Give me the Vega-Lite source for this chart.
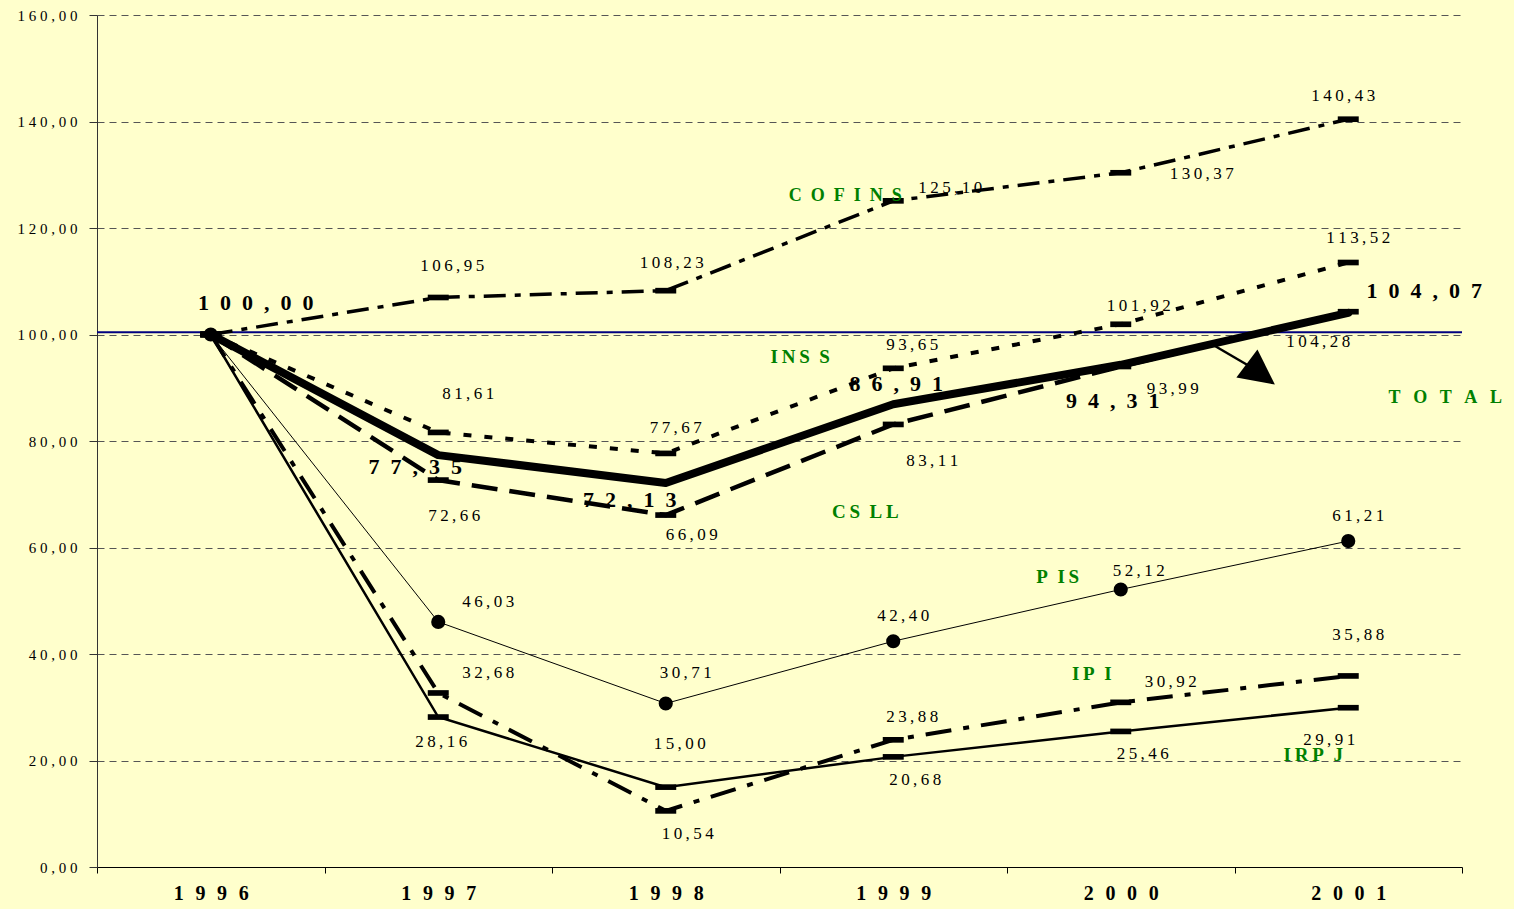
{
  "$schema": "https://vega.github.io/schema/vega-lite/v6.json",
  "width": 1365,
  "height": 852,
  "autosize": {"type": "none"},
  "padding": {"left": 97, "top": 15, "right": 52, "bottom": 42},
  "background": "#FFFFCC",
  "config": {"view": {"stroke": null}, "font": "Liberation Serif"},
  "resolve": {"scale": {"x": "independent"}},
  "layer": [
    {
      "data": {"values": [{"b": 100.4}]},
      "mark": {"type": "rule", "color": "#000080", "strokeWidth": 2},
      "encoding": {"y": {"field": "b", "type": "quantitative"}}
    },
    {
      "data": {"values": [
        {"s": "COFINS", "yr": "1996", "v": 100}, {"s": "COFINS", "yr": "1997", "v": 106.95}, {"s": "COFINS", "yr": "1998", "v": 108.23}, {"s": "COFINS", "yr": "1999", "v": 125.10}, {"s": "COFINS", "yr": "2000", "v": 130.37}, {"s": "COFINS", "yr": "2001", "v": 140.43},
        {"s": "INSS", "yr": "1996", "v": 100}, {"s": "INSS", "yr": "1997", "v": 81.61}, {"s": "INSS", "yr": "1998", "v": 77.67}, {"s": "INSS", "yr": "1999", "v": 93.65}, {"s": "INSS", "yr": "2000", "v": 101.92}, {"s": "INSS", "yr": "2001", "v": 113.52},
        {"s": "TOTAL", "yr": "1996", "v": 100}, {"s": "TOTAL", "yr": "1997", "v": 77.35}, {"s": "TOTAL", "yr": "1998", "v": 72.13}, {"s": "TOTAL", "yr": "1999", "v": 86.91}, {"s": "TOTAL", "yr": "2000", "v": 94.31}, {"s": "TOTAL", "yr": "2001", "v": 104.07},
        {"s": "CSLL", "yr": "1996", "v": 100}, {"s": "CSLL", "yr": "1997", "v": 72.66}, {"s": "CSLL", "yr": "1998", "v": 66.09}, {"s": "CSLL", "yr": "1999", "v": 83.11}, {"s": "CSLL", "yr": "2000", "v": 93.99}, {"s": "CSLL", "yr": "2001", "v": 104.28},
        {"s": "PIS", "yr": "1996", "v": 100}, {"s": "PIS", "yr": "1997", "v": 46.03}, {"s": "PIS", "yr": "1998", "v": 30.71}, {"s": "PIS", "yr": "1999", "v": 42.40}, {"s": "PIS", "yr": "2000", "v": 52.12}, {"s": "PIS", "yr": "2001", "v": 61.21},
        {"s": "IPI", "yr": "1996", "v": 100}, {"s": "IPI", "yr": "1997", "v": 32.68}, {"s": "IPI", "yr": "1998", "v": 10.54}, {"s": "IPI", "yr": "1999", "v": 23.88}, {"s": "IPI", "yr": "2000", "v": 30.92}, {"s": "IPI", "yr": "2001", "v": 35.88},
        {"s": "IRPJ", "yr": "1996", "v": 100}, {"s": "IRPJ", "yr": "1997", "v": 28.16}, {"s": "IRPJ", "yr": "1998", "v": 15.00}, {"s": "IRPJ", "yr": "1999", "v": 20.68}, {"s": "IRPJ", "yr": "2000", "v": 25.46}, {"s": "IRPJ", "yr": "2001", "v": 29.91}
      ]},
      "transform": [
        {"calculate": "datum.s + '-' + datum.yr", "as": "k"},
        {"calculate": "replace(format(datum.v, '.2f'), '.', ',')", "as": "t"},
        {"calculate": "replace(datum.t, regexp('(.)(?!$)', 'g'), '$1\u2009')", "as": "ts"},
        {"calculate": "replace(datum.t, regexp('(.)(?!$)', 'g'), '$1\u2002')", "as": "tt"}
      ],
      "encoding": {
        "x": {
          "field": "yr", "type": "ordinal",
          "scale": {"type": "band", "paddingInner": 0, "paddingOuter": 0},
          "axis": {
            "title": null, "tickBand": "extent", "tickSize": 6, "tickColor": "black",
            "domainColor": "black", "grid": false, "labelAngle": 0,
            "labelFont": "Liberation Serif", "labelFontWeight": "bold", "labelFontSize": 20,
            "labelColor": "black", "labelPadding": 10,
            "labelExpr": "replace(datum.label, regexp('(.)(?!$)', 'g'), '$1\u2002\u200a')"
          }
        },
        "y": {
          "field": "v", "type": "quantitative",
          "scale": {"domain": [0, 160], "nice": false, "zero": true},
          "axis": {
            "title": null, "values": [0, 20, 40, 60, 80, 100, 120, 140, 160],
            "tickSize": 8, "tickColor": "#333333", "domainColor": "#333333",
            "grid": true, "gridDash": [7, 5], "gridColor": "#555555", "gridWidth": 1,
            "labelFont": "Liberation Serif", "labelFontSize": 15, "labelColor": "black", "labelPadding": 12,
            "labelExpr": "replace(replace(format(datum.value, '.2f'), '.', ','), regexp('(.)(?!$)', 'g'), '$1\u2005')"
          }
        }
      },
      "layer": [
        {"transform": [{"filter": "datum.s == 'PIS'"}], "mark": {"type": "line", "color": "black", "strokeWidth": 1}},
        {"transform": [{"filter": "datum.s == 'IRPJ'"}], "mark": {"type": "line", "color": "black", "strokeWidth": 2.5}},
        {"transform": [{"filter": "datum.s == 'IPI'"}], "mark": {"type": "line", "color": "black", "strokeWidth": 4, "strokeDash": [26, 12, 6, 12]}},
        {"transform": [{"filter": "datum.s == 'CSLL'"}], "mark": {"type": "line", "color": "black", "strokeWidth": 4.5, "strokeDash": [26, 12]}},
        {"transform": [{"filter": "datum.s == 'INSS'"}], "mark": {"type": "line", "color": "black", "strokeWidth": 4, "strokeDash": [8, 13]}},
        {"transform": [{"filter": "datum.s == 'COFINS'"}], "mark": {"type": "line", "color": "black", "strokeWidth": 3.5, "strokeDash": [22, 9, 6, 9]}},
        {"transform": [{"filter": "datum.s == 'TOTAL'"}], "mark": {"type": "line", "color": "black", "strokeWidth": 8, "strokeCap": "round", "strokeJoin": "round"}},
        {"transform": [{"filter": {"field": "s", "oneOf": ["COFINS", "INSS", "CSLL", "IPI", "IRPJ"]}}],
         "mark": {"type": "point", "shape": "M-1,-0.27L1,-0.27L1,0.27L-1,0.27Z", "filled": true, "color": "black", "size": 440, "opacity": 1}},
        {"transform": [{"filter": "datum.s == 'PIS'"}],
         "mark": {"type": "point", "shape": "circle", "filled": true, "color": "black", "size": 200, "opacity": 1}},

        {"transform": [{"filter": {"field": "k", "oneOf": ["INSS-1998", "INSS-2001", "PIS-1999", "PIS-2001"]}}],
         "mark": {"type": "text", "fontSize": 17, "color": "black", "align": "center", "baseline": "middle", "dx": 10, "dy": -25}, "encoding": {"text": {"field": "ts"}}},
        {"transform": [{"filter": {"field": "k", "oneOf": ["INSS-1999", "IPI-1999"]}}],
         "mark": {"type": "text", "fontSize": 17, "color": "black", "align": "center", "baseline": "middle", "dx": 19, "dy": -23}, "encoding": {"text": {"field": "ts"}}},
        {"transform": [{"filter": {"field": "k", "oneOf": ["INSS-2000", "PIS-2000"]}}],
         "mark": {"type": "text", "fontSize": 17, "color": "black", "align": "center", "baseline": "middle", "dx": 18, "dy": -18}, "encoding": {"text": {"field": "ts"}}},
        {"transform": [{"filter": {"field": "k", "oneOf": ["PIS-1997", "IPI-1997", "IPI-2000"]}}],
         "mark": {"type": "text", "fontSize": 17, "color": "black", "align": "center", "baseline": "middle", "dx": 50, "dy": -20}, "encoding": {"text": {"field": "ts"}}},
        {"transform": [{"filter": {"field": "k", "oneOf": ["IPI-1998", "IRPJ-1999", "IRPJ-2000"]}}],
         "mark": {"type": "text", "fontSize": 17, "color": "black", "align": "center", "baseline": "middle", "dx": 22, "dy": 23}, "encoding": {"text": {"field": "ts"}}},
        {"transform": [{"filter": {"field": "k", "equal": "COFINS-1997"}}],
         "mark": {"type": "text", "fontSize": 17, "color": "black", "align": "center", "baseline": "middle", "dx": 14, "dy": -31}, "encoding": {"text": {"field": "ts"}}},
        {"transform": [{"filter": {"field": "k", "equal": "COFINS-1998"}}],
         "mark": {"type": "text", "fontSize": 17, "color": "black", "align": "center", "baseline": "middle", "dx": 6, "dy": -28}, "encoding": {"text": {"field": "ts"}}},
        {"transform": [{"filter": {"field": "k", "equal": "COFINS-1999"}}],
         "mark": {"type": "text", "fontSize": 17, "color": "black", "align": "center", "baseline": "middle", "dx": 57, "dy": -13}, "encoding": {"text": {"field": "ts"}}},
        {"transform": [{"filter": {"field": "k", "equal": "COFINS-2000"}}],
         "mark": {"type": "text", "fontSize": 17, "color": "black", "align": "center", "baseline": "middle", "dx": 81, "dy": 1}, "encoding": {"text": {"field": "ts"}}},
        {"transform": [{"filter": {"field": "k", "equal": "COFINS-2001"}}],
         "mark": {"type": "text", "fontSize": 17, "color": "black", "align": "center", "baseline": "middle", "dx": -5, "dy": -23}, "encoding": {"text": {"field": "ts"}}},
        {"transform": [{"filter": {"field": "k", "equal": "INSS-1997"}}],
         "mark": {"type": "text", "fontSize": 17, "color": "black", "align": "center", "baseline": "middle", "dx": 30, "dy": -38}, "encoding": {"text": {"field": "ts"}}},
        {"transform": [{"filter": {"field": "k", "equal": "CSLL-1997"}}],
         "mark": {"type": "text", "fontSize": 17, "color": "black", "align": "center", "baseline": "middle", "dx": 16, "dy": 36}, "encoding": {"text": {"field": "ts"}}},
        {"transform": [{"filter": {"field": "k", "equal": "CSLL-1998"}}],
         "mark": {"type": "text", "fontSize": 17, "color": "black", "align": "center", "baseline": "middle", "dx": 26, "dy": 20}, "encoding": {"text": {"field": "ts"}}},
        {"transform": [{"filter": {"field": "k", "equal": "CSLL-1999"}}],
         "mark": {"type": "text", "fontSize": 17, "color": "black", "align": "center", "baseline": "middle", "dx": 39, "dy": 37}, "encoding": {"text": {"field": "ts"}}},
        {"transform": [{"filter": {"field": "k", "equal": "CSLL-2000"}}],
         "mark": {"type": "text", "fontSize": 17, "color": "black", "align": "center", "baseline": "middle", "dx": 52, "dy": 22}, "encoding": {"text": {"field": "ts"}}},
        {"transform": [{"filter": {"field": "k", "equal": "CSLL-2001"}}],
         "mark": {"type": "text", "fontSize": 17, "color": "black", "align": "center", "baseline": "middle", "dx": -30, "dy": 30}, "encoding": {"text": {"field": "ts"}}},
        {"transform": [{"filter": {"field": "k", "equal": "PIS-1998"}}],
         "mark": {"type": "text", "fontSize": 17, "color": "black", "align": "center", "baseline": "middle", "dx": 20, "dy": -30}, "encoding": {"text": {"field": "ts"}}},
        {"transform": [{"filter": {"field": "k", "equal": "IPI-2001"}}],
         "mark": {"type": "text", "fontSize": 17, "color": "black", "align": "center", "baseline": "middle", "dx": 10, "dy": -41}, "encoding": {"text": {"field": "ts"}}},
        {"transform": [{"filter": {"field": "k", "equal": "IRPJ-1997"}}],
         "mark": {"type": "text", "fontSize": 17, "color": "black", "align": "center", "baseline": "middle", "dx": 3, "dy": 25}, "encoding": {"text": {"field": "ts"}}},
        {"transform": [{"filter": {"field": "k", "equal": "IRPJ-1998"}}],
         "mark": {"type": "text", "fontSize": 17, "color": "black", "align": "center", "baseline": "middle", "dx": 14, "dy": -43}, "encoding": {"text": {"field": "ts"}}},
        {"transform": [{"filter": {"field": "k", "equal": "IRPJ-2001"}}],
         "mark": {"type": "text", "fontSize": 17, "color": "black", "align": "center", "baseline": "middle", "dx": -19, "dy": 32}, "encoding": {"text": {"field": "ts"}}},

        {"transform": [{"filter": {"field": "k", "equal": "TOTAL-1996"}}],
         "mark": {"type": "text", "fontSize": 22, "fontWeight": "bold", "color": "black", "align": "center", "baseline": "middle", "dx": 45, "dy": -32}, "encoding": {"text": {"field": "tt"}}},
        {"transform": [{"filter": {"field": "k", "equal": "TOTAL-1997"}}],
         "mark": {"type": "text", "fontSize": 22, "fontWeight": "bold", "color": "black", "align": "center", "baseline": "middle", "dx": -23, "dy": 12}, "encoding": {"text": {"field": "tt"}}},
        {"transform": [{"filter": {"field": "k", "equal": "TOTAL-1998"}}],
         "mark": {"type": "text", "fontSize": 22, "fontWeight": "bold", "color": "black", "align": "center", "baseline": "middle", "dx": -36, "dy": 17}, "encoding": {"text": {"field": "tt"}}},
        {"transform": [{"filter": {"field": "k", "equal": "TOTAL-1999"}}],
         "mark": {"type": "text", "fontSize": 22, "fontWeight": "bold", "color": "black", "align": "center", "baseline": "middle", "dx": 3, "dy": -20}, "encoding": {"text": {"field": "tt"}}},
        {"transform": [{"filter": {"field": "k", "equal": "TOTAL-2000"}}],
         "mark": {"type": "text", "fontSize": 22, "fontWeight": "bold", "color": "black", "align": "center", "baseline": "middle", "dx": -8, "dy": 36}, "encoding": {"text": {"field": "tt"}}},
        {"transform": [{"filter": {"field": "k", "equal": "TOTAL-2001"}}],
         "mark": {"type": "text", "fontSize": 22, "fontWeight": "bold", "color": "black", "align": "center", "baseline": "middle", "dx": 76, "dy": -22}, "encoding": {"text": {"field": "tt"}}},

        {"transform": [{"filter": {"field": "k", "equal": "COFINS-1999"}}],
         "mark": {"type": "text", "text": "C\u2002O\u2002F\u2002I\u2002N\u2002S", "fontSize": 18, "fontWeight": "bold", "color": "#008000", "align": "center", "baseline": "middle", "dx": -48, "dy": -5}},
        {"transform": [{"filter": {"field": "k", "equal": "INSS-1999"}}],
         "mark": {"type": "text", "text": "I\u2009N\u2009S\u2002S", "fontSize": 19, "fontWeight": "bold", "color": "#008000", "align": "center", "baseline": "middle", "dx": -93, "dy": -11}},
        {"transform": [{"filter": {"field": "k", "equal": "CSLL-1999"}}],
         "mark": {"type": "text", "text": "C\u2009S\u2002L\u2009L", "fontSize": 19, "fontWeight": "bold", "color": "#008000", "align": "center", "baseline": "middle", "dx": -28, "dy": 88}},
        {"transform": [{"filter": {"field": "k", "equal": "PIS-2000"}}],
         "mark": {"type": "text", "text": "P\u2002I\u2009S", "fontSize": 19, "fontWeight": "bold", "color": "#008000", "align": "center", "baseline": "middle", "dx": -63, "dy": -12}},
        {"transform": [{"filter": {"field": "k", "equal": "IPI-2000"}}],
         "mark": {"type": "text", "text": "I\u2009P\u2002I", "fontSize": 19, "fontWeight": "bold", "color": "#008000", "align": "center", "baseline": "middle", "dx": -29, "dy": -28}},
        {"transform": [{"filter": {"field": "k", "equal": "IRPJ-2001"}}],
         "mark": {"type": "text", "text": "I\u2009R\u2009P\u2002J", "fontSize": 19, "fontWeight": "bold", "color": "#008000", "align": "center", "baseline": "middle", "dx": -35, "dy": 47}},
        {"transform": [{"filter": {"field": "k", "equal": "TOTAL-2001"}}],
         "mark": {"type": "text", "text": "T\u2002\u2009O\u2002\u2009T\u2002\u2009A\u2002\u2009L", "fontSize": 18, "fontWeight": "bold", "color": "#008000", "align": "center", "baseline": "middle", "dx": 97, "dy": 85}}
      ]
    },
    {
      "data": {"values": [{"p": 4.884, "v": 98.59, "p2": 5.057, "v2": 94.27, "hp": 5.116, "hv": 92.58}]},
      "layer": [
        {
          "mark": {"type": "rule", "color": "black", "strokeWidth": 2.5},
          "encoding": {
            "x": {"field": "p", "type": "quantitative", "scale": {"type": "linear", "domain": [0, 6], "nice": false, "zero": false}, "axis": null},
            "y": {"field": "v", "type": "quantitative"},
            "x2": {"field": "p2"},
            "y2": {"field": "v2"}
          }
        },
        {
          "mark": {"type": "point", "shape": "M1,0L-1,-1L-1,1Z", "filled": true, "color": "black", "opacity": 1, "size": 1225, "angle": 37},
          "encoding": {
            "x": {"field": "hp", "type": "quantitative", "scale": {"type": "linear", "domain": [0, 6], "nice": false, "zero": false}, "axis": null},
            "y": {"field": "hv", "type": "quantitative"}
          }
        }
      ]
    }
  ]
}
